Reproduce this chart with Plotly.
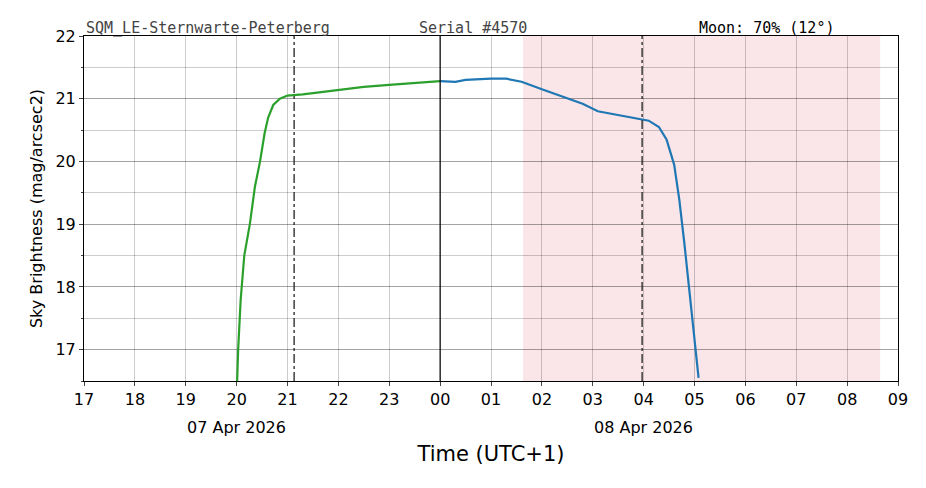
import plotly.graph_objects as go

# hours since 07 Apr 2026 00:00 (UTC+1)
green_t = [20.01,20.03,20.08,20.15,20.26,20.36,20.46,20.55,20.62,20.72,20.85,21.0,21.3,21.6,22.0,22.5,23.0,23.5,24.0]
green_v = [16.5,17.0,17.8,18.5,19.0,19.6,20.0,20.45,20.7,20.9,21.0,21.05,21.07,21.1,21.14,21.19,21.22,21.25,21.28]
blue_t = [24.0,24.3,24.5,25.0,25.3,25.6,26.0,26.4,26.8,27.1,27.5,27.9,28.1,28.3,28.45,28.6,28.7,28.8,28.9,29.0,29.08]
blue_v = [21.28,21.27,21.3,21.32,21.32,21.27,21.15,21.03,20.92,20.8,20.74,20.69,20.65,20.55,20.35,19.95,19.4,18.7,17.9,17.1,16.55]
tick_vals = list(range(17, 34))
tick_text = ["17","18","19","20","21","22","23","00","01","02","03","04","05","06","07","08","09"]
shade = [25.63, 32.65]
dashdot = [21.13, 27.97]
midnight = 24.0

fig = go.Figure()
fig.add_vrect(x0=shade[0], x1=shade[1], fillcolor="rgba(220,80,90,0.14)", line_width=0, layer="below")
fig.add_trace(go.Scatter(x=green_t, y=green_v, mode="lines", line=dict(color="#2ca02c", width=2.2)))
fig.add_trace(go.Scatter(x=blue_t, y=blue_v, mode="lines", line=dict(color="#1f77b4", width=2.2)))
for d in dashdot:
    fig.add_vline(x=d, line=dict(color="#222", width=1.3, dash="dashdot"))
fig.add_vline(x=midnight, line=dict(color="black", width=1.2))

grid = "rgba(0,0,0,0.2)"
fig.update_xaxes(range=[17, 33], tickvals=tick_vals, ticktext=tick_text, showgrid=True,
                 gridcolor=grid, gridwidth=0.5, ticks="outside", ticklen=4,
                 showline=True, linecolor="black", mirror=True, zeroline=False,
                 tickfont=dict(size=16, color="black"),
                 title=dict(text="Time (UTC+1)", font=dict(size=21, color="black"), standoff=38))
fig.update_yaxes(range=[16.5, 22], tickvals=[17,18,19,20,21,22], showgrid=True,
                 gridcolor=grid, gridwidth=0.5, ticks="outside", ticklen=4,
                 minor=dict(dtick=0.5, tick0=16.5, showgrid=True, gridcolor=grid, ticks="outside", ticklen=2),
                 showline=True, linecolor="black", mirror=True, zeroline=False,
                 tickfont=dict(size=16, color="black"),
                 title=dict(text="Sky Brightness (mag/arcsec2)", font=dict(size=16, color="black"), standoff=8))
mono = "DejaVu Sans Mono"
anns = [
    dict(x=17, text="SQM_LE-Sternwarte-Peterberg", color="#444"),
    dict(x=23.55, text="Serial #4570", color="#444"),
    dict(x=29.05, text="Moon: 70% (12°)", color="black"),
]
for a in anns:
    fig.add_annotation(x=a["x"], y=1.0, xref="x", yref="paper", text=a["text"], showarrow=False,
                       xanchor="left", yanchor="bottom", yshift=-3,
                       font=dict(family=mono, size=15, color=a["color"]))
for x, t in [(20.0, "07 Apr 2026"), (28.0, "08 Apr 2026")]:
    fig.add_annotation(x=x, y=-0.1, xref="x", yref="paper", text=t, showarrow=False,
                       yanchor="top", font=dict(size=16, color="black"))
fig.update_layout(width=926, height=488, margin=dict(l=76, r=36, t=28, b=115),
                  plot_bgcolor="white", paper_bgcolor="white", showlegend=False,
                  font=dict(family="DejaVu Sans"))
fig.write_html("out.html")
